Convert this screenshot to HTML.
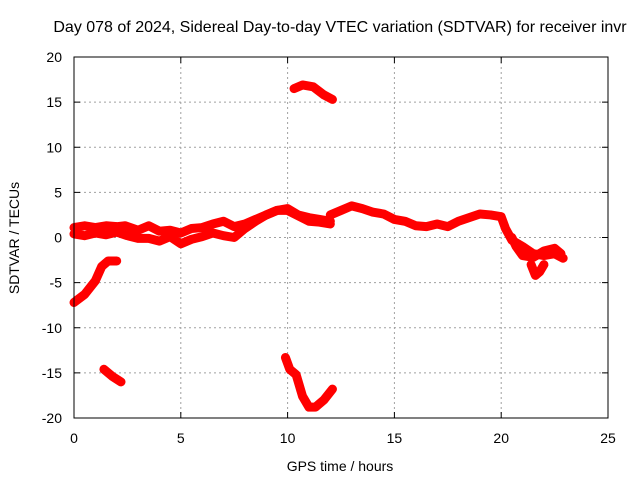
<!DOCTYPE html>
<html><head><meta charset="utf-8"><style>
body{margin:0;background:#fff}
svg text{font-family:"Liberation Sans",sans-serif;font-size:14px;fill:#000}
</style></head><body>
<svg id="c" width="640" height="480">
<text x="340" y="32" text-anchor="middle" style="font-size:16px">Day 078 of 2024, Sidereal Day-to-day VTEC variation (SDTVAR) for receiver invr</text>
<text x="340" y="471" text-anchor="middle">GPS time / hours</text>
<text transform="translate(19,238) rotate(-90)" text-anchor="middle">SDTVAR / TECUs</text>
<g id="grid"></g><g id="data"></g>
<rect x="74" y="57" width="534" height="361" fill="none" stroke="#000" stroke-width="1"/>
</svg>
<script>
const xTicks=[0,5,10,15,20,25];
const yTicks=[20,15,10,5,0,-5,-10,-15,-20];
const traceA=[[0,1.1],[0.5,1.3],[1,1.1],[1.5,1.3],[2,1.2],[2.4,1.3],[3,0.8],[3.5,1.3],[4,0.7],[4.5,0.8],[5,0.5],[5.5,1],[6,1.1],[6.5,1.5],[7,1.8],[7.5,1.2],[8,1.5],[8.5,2],[9,2.5],[9.5,3],[10,3.2],[10.5,2.5],[11,2.2],[11.5,2],[12,1.8]];
const traceB=[[0,0.4],[0.5,0.2],[1,0.5],[1.5,0.3],[2,0.6],[2.5,0.2],[3,-0.1],[3.5,-0.1],[4,-0.4],[4.5,0.1],[5,-0.7],[5.5,-0.2],[6,0.1],[6.5,0.5],[7,0.2],[7.5,0],[8,1],[8.5,1.8],[9,2.5],[9.5,3],[10,3],[10.5,2.4],[11,1.8],[11.5,1.7],[12,1.5]];
const traceC=[[12,2.5],[12.5,3],[13,3.5],[13.5,3.2],[14,2.8],[14.5,2.6],[15,2],[15.5,1.8],[16,1.3],[16.5,1.2],[17,1.5],[17.5,1.2],[18,1.8],[18.5,2.2],[19,2.6],[19.5,2.5],[20,2.3],[20.2,1],[20.5,-0.3],[21,-1],[21.5,-1.8],[22,-2],[22.5,-1.8],[22.9,-2.3]];
const traceC2=[[20.5,0],[20.7,-1],[21,-2],[21.5,-2.2],[22,-1.5],[22.5,-1.2],[22.8,-1.8]];
const traceC3=[[21.4,-3],[21.6,-4.2],[21.8,-3.8],[22,-3]];
const traceD=[[0,-7.2],[0.5,-6.3],[1,-4.8],[1.3,-3.2],[1.6,-2.6],[2,-2.6]];
const traceE=[[1.4,-14.6],[1.8,-15.4],[2.2,-16]];
const traceF=[[9.9,-13.3],[10.1,-14.6],[10.4,-15.2],[10.7,-17.6],[11,-18.8],[11.3,-18.8],[11.7,-18],[12.1,-16.8]];
const traceG=[[10.3,16.5],[10.7,16.9],[11.2,16.7],[11.7,15.8],[12.1,15.3]];
const traces=[traceA,traceB,traceC,traceC2,traceC3,traceD,traceE,traceF,traceG];
const X=h=>74+h*534/25, Y=v=>237.5-v*361/40;
const NS="http://www.w3.org/2000/svg";
const g=document.getElementById('grid'), d=document.getElementById('data');
function mk(tag,at,par){const e=document.createElementNS(NS,tag);for(const k in at)e.setAttribute(k,at[k]);par.appendChild(e);return e;}
xTicks.forEach(t=>{
 if(t>0&&t<25){const l=mk('line',{x1:X(t),x2:X(t),y1:57,y2:418,stroke:'#a0a0a0','stroke-dasharray':'2,3'},g);
 
 }
 mk('line',{x1:X(t),x2:X(t),y1:418,y2:412,stroke:'#000'},g);
 mk('line',{x1:X(t),x2:X(t),y1:57,y2:63,stroke:'#000'},g);
 const tx=mk('text',{x:X(t),y:443,'text-anchor':'middle'},g);tx.textContent=t;
 
 
});
yTicks.forEach(t=>{
 if(t>-20&&t<20){const l=mk('line',{x1:74,x2:608,y1:Y(t),y2:Y(t),stroke:'#a0a0a0','stroke-dasharray':'2,3'},g);
 
 }
 mk('line',{x1:74,x2:80,y1:Y(t),y2:Y(t),stroke:'#000'},g);
 mk('line',{x1:602,x2:608,y1:Y(t),y2:Y(t),stroke:'#000'},g);
 const tx=mk('text',{x:62,y:Y(t)+5,'text-anchor':'end'},g);tx.textContent=t;
 
 
});
traces.forEach(tr=>{
 const p=mk('polyline',{points:tr.map(q=>X(q[0])+','+Y(q[1])).join(' '),fill:'none',stroke:'#f00','stroke-width':9,'stroke-linejoin':'round','stroke-linecap':'round'},d);
 
 
});
</script>
</body></html>
